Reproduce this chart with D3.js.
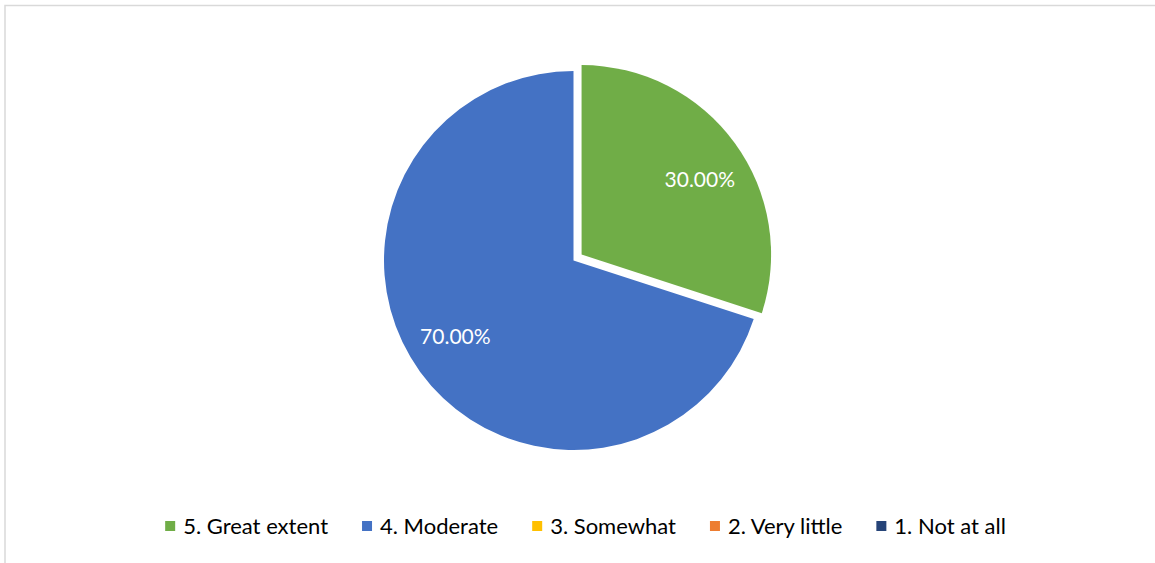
<!DOCTYPE html>
<html>
<head>
<meta charset="utf-8">
<script src="https://cdn.jsdelivr.net/npm/d3@7"></script>
<style>
html,body{margin:0;padding:0;background:#fff;}
svg{display:block;}
</style>
</head>
<body>
<svg id="chart" width="1155" height="563"></svg>
<script>
const categories = ["5. Great extent", "4. Moderate", "3. Somewhat", "2. Very little", "1. Not at all"];
const values = [30, 70, 0, 0, 0];
const colors = ["#70AD47", "#4472C4", "#FFC000", "#ED7D31", "#264478"];
const explode = [10, 0, 0, 0, 0];

const W = 1155, H = 563;
const svg = d3.select("#chart");
const font = "Lato, 'Open Sans', sans-serif";

// chart border
svg.append("path")
  .attr("d", "M5,570 L5,5.5 L1160,5.5")
  .attr("fill", "none")
  .attr("stroke", "#d9d9d9")
  .attr("stroke-width", 1.5);

const cx = 573.5, cy = 260.5, r = 189.5;
const data = categories.map((c, i) => ({cat: c, value: values[i], color: colors[i], ex: explode[i]}));
const pie = d3.pie().sort(null).value(d => d.value);
const arcs = pie(data);
const arc = d3.arc().innerRadius(0).outerRadius(r);

const g = svg.append("g").attr("transform", `translate(${cx},${cy})`);

const slices = g.selectAll("g.slice").data(arcs.filter(a => a.data.value > 0)).enter()
  .append("g").attr("class", "slice")
  .attr("transform", a => {
    const mid = (a.startAngle + a.endAngle) / 2;
    return `translate(${Math.sin(mid) * a.data.ex},${-Math.cos(mid) * a.data.ex})`;
  });

slices.append("path")
  .attr("d", arc)
  .attr("fill", a => a.data.color);

const total = d3.sum(values);
slices.append("text")
  .attr("transform", a => {
    const mid = (a.startAngle + a.endAngle) / 2 + 0.06;
    const lr = r * 0.74;
    return `translate(${Math.sin(mid) * lr},${-Math.cos(mid) * lr})`;
  })
  .attr("text-anchor", "middle")
  .attr("dy", "0.36em")
  .attr("fill", "#ffffff")
  .attr("font-family", font)
  .attr("font-size", 21)
  .text(a => (a.data.value / total * 100).toFixed(2) + "%");

// legend
const legend = svg.append("g");
const ly = 526;
const sw = 10, gapSwText = 8, gapItems = 34;
const items = legend.selectAll("g.item").data(data).enter().append("g").attr("class", "item");
items.append("rect").attr("width", sw).attr("height", sw).attr("y", ly - sw / 2)
  .attr("fill", d => d.color);
items.append("text").attr("x", sw + gapSwText).attr("y", ly).attr("dy", "0.36em")
  .attr("font-family", font).attr("font-size", 22).attr("fill", "#000")
  .text(d => d.cat);
let widths = [];
items.each(function () { widths.push(sw + gapSwText + d3.select(this).select("text").node().getComputedTextLength()); });
const totalW = d3.sum(widths) + gapItems * (widths.length - 1);
let x = 160 + (1011 - 160 - totalW) / 2;
items.each(function (d, i) {
  d3.select(this).attr("transform", `translate(${x},0)`);
  x += widths[i] + gapItems;
});
</script>
</body>
</html>
